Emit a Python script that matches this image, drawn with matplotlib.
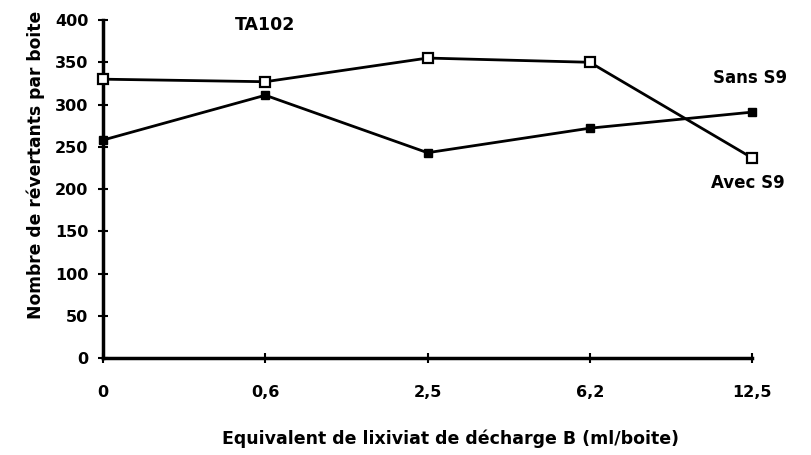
import matplotlib
matplotlib.use("Agg")
import matplotlib.pyplot as plt

doses = ["0", "0,6", "2,5", "6,2", "12,5"]
avec_s9 = [330, 327, 355, 350, 237]
sans_s9 = [258, 311, 243, 272, 291]
yticks = [0, 50, 100, 150, 200, 250, 300, 350, 400]

plt.rcParams['font.family'] = ['DejaVu Sans']
plt.rcParams['font.weight'] = 'bold'

fig = plt.figure(figsize=(8.12, 4.55), dpi=100)
ax = fig.add_axes([0.127, 0.213, 0.799, 0.743])

x = list(range(len(doses)))
ax.plot(x, avec_s9, color='black', lw=2, marker='s', markersize=7,
        markerfacecolor='white', markeredgecolor='black', markeredgewidth=1.6,
        clip_on=False, zorder=3)
ax.plot(x, sans_s9, color='black', lw=2, marker='s', markersize=6,
        markerfacecolor='black', markeredgecolor='black',
        clip_on=False, zorder=3)

ax.set_xlim(0, len(doses) - 1)
ax.set_ylim(0, 400)
ax.set_xticks(x)
ax.set_xticklabels(doses)
ax.set_yticks(yticks)
ax.set_yticklabels([str(v) for v in yticks])

for s in ['top', 'right']:
    ax.spines[s].set_visible(False)
for s in ['left', 'bottom']:
    ax.spines[s].set_linewidth(2.5)
ax.tick_params(axis='both', direction='inout', length=7, width=1.5,
               labelsize=11.5)
ax.tick_params(axis='x', pad=16)
ax.tick_params(axis='y', pad=7)
for lbl in ax.get_xticklabels() + ax.get_yticklabels():
    lbl.set_fontweight('bold')

ax.set_ylabel("Nombre de révertants par boite", fontsize=12.3, fontweight='bold')
ax.yaxis.set_label_coords(-0.09, 0.571)
ax.set_xlabel("Equivalent de lixiviat de décharge B (ml/boite)", fontsize=12.5,
              fontweight='bold')
ax.xaxis.set_label_coords(0.536, -0.21)

ax.text(1.0, 394, "TA102", ha='center', va='center', fontsize=12.5,
        fontweight='bold')
ax.text(3.76, 331, "Sans S9", ha='left', va='center', fontsize=12,
        fontweight='bold', clip_on=False)
ax.text(3.75, 207, "Avec S9", ha='left', va='center', fontsize=12,
        fontweight='bold', clip_on=False)

fig.savefig("out.png", dpi=100)
